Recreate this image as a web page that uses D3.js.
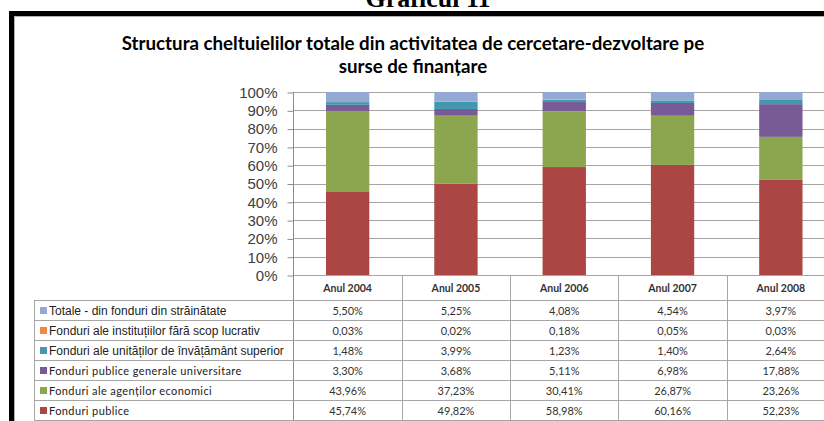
<!DOCTYPE html>
<meta charset="utf-8">
<style>
body { margin: 0; background: #fff; }
svg { display: block; }
.ytick text { font-family: "Liberation Sans", Arial, sans-serif; font-size: 15px; fill: #404040; }
.cell { font-family: Lato, "Open Sans", sans-serif; font-size: 11px; fill: #333; }
</style>
<body>
<svg id="chart" width="824" height="421"></svg>
</body>
<script src="https://d3js.org/d3.v7.min.js"></script>
<script>
// data (percent of total per year)
var years = ["Anul 2004", "Anul 2005", "Anul 2006", "Anul 2007", "Anul 2008"];
var fonduriPublice      = [45.74, 49.82, 58.98, 60.16, 52.23];
var agentiEconomici     = [43.96, 37.23, 30.41, 26.87, 23.26];
var publiceUniversitare = [3.30, 3.68, 5.11, 6.98, 17.88];
var invatamantSuperior  = [1.48, 3.99, 1.23, 1.40, 2.64];
var faraScopLucrativ    = [0.03, 0.02, 0.18, 0.05, 0.03];
var strainatate         = [5.50, 5.25, 4.08, 4.54, 3.97];
var yTicks = [0, 0.1, 0.2, 0.3, 0.4, 0.5, 0.6, 0.7, 0.8, 0.9, 1];

// stacking order bottom -> top
var series = [
  {key: "Fonduri publice", values: fonduriPublice, color: "#ab4644", legendFont: "b"},
  {key: "Fonduri ale agenților economici", values: agentiEconomici, color: "#8ba64e", legendFont: "b"},
  {key: "Fonduri publice generale universitare", values: publiceUniversitare, color: "#775a96", legendFont: "b"},
  {key: "Fonduri ale unităților de învățământ superior", values: invatamantSuperior, color: "#4198af", legendFont: "a"},
  {key: "Fonduri ale instituțiilor fără scop lucrativ", values: faraScopLucrativ, color: "#f08a3f", legendFont: "a"},
  {key: "Totale - din fonduri din străinătate", values: strainatate, color: "#93a8d2", legendFont: "a"}
];
// table rows go top -> bottom
var tableRows = series.slice().reverse();

var svg = d3.select("#chart");
var W = 824, H = 421;

var x = d3.scaleBand().domain(years).range([293.5, 835]);
var y = d3.scaleLinear().domain([0, 1]).range([275, 92]);
var barW = x.bandwidth() * 0.4;

var loc = d3.formatLocale({decimal: ",", thousands: ".", grouping: [3], currency: ["", ""]});
var pct = function(v) { return loc.format(".2f")(v) + "%"; };

// header "Graficul 11" cut off at the top
svg.append("text")
  .attr("x", 428).attr("y", 7)
  .attr("text-anchor", "middle")
  .style("font-family", "'Liberation Serif', 'Times New Roman', serif")
  .style("font-weight", "bold").style("font-size", "26px")
  .text("Graficul 11");

// outer frame
svg.append("rect")
  .attr("x", 11.5).attr("y", 13.5).attr("width", 900).attr("height", 600)
  .attr("fill", "none").attr("stroke", "#000").attr("stroke-width", 5);
svg.append("path").attr("d", "M14.5,421V16.5H824")
  .attr("fill", "none").attr("stroke", "#b0b0b0").attr("stroke-width", 1);

// title, fitted to the width it has in the picture
var title = svg.append("g")
  .style("font-family", "Lato, 'Open Sans', sans-serif")
  .style("font-weight", "bold").style("font-size", "19px").attr("fill", "#000");
var t1 = title.append("text").attr("x", 413).attr("y", 50).attr("text-anchor", "middle")
  .text("Structura cheltuielilor totale din activitatea de cercetare-dezvoltare pe");
var t2 = title.append("text").attr("x", 413).attr("y", 73).attr("text-anchor", "middle")
  .text("surse de finanțare");
var fs = 19 * 583 / t1.node().getComputedTextLength();
title.style("font-size", fs + "px");

// gridlines
svg.append("g").selectAll("line").data(yTicks).join("line")
  .attr("x1", 293).attr("x2", W)
  .attr("y1", function(d) { return Math.round(y(d)) + 0.5; })
  .attr("y2", function(d) { return Math.round(y(d)) + 0.5; })
  .attr("stroke", "#a6a6a6");

// y axis
var yAxis = svg.append("g").attr("class", "ytick")
  .attr("transform", "translate(293.5,0.5)")
  .call(d3.axisLeft(y).tickValues(yTicks).tickFormat(d3.format(".0%")).tickSize(6).tickPadding(10));
yAxis.select(".domain").remove();
yAxis.selectAll("line").attr("stroke", "#8c8c8c");
svg.append("line").attr("x1", 293.5).attr("x2", 293.5).attr("y1", 92).attr("y2", H)
  .attr("stroke", "#8c8c8c");

// stacked bars
var rows = years.map(function(yr, i) {
  var r = {year: yr};
  series.forEach(function(s) { r[s.key] = s.values[i]; });
  return r;
});
var stack = d3.stack().keys(series.map(function(s) { return s.key; })).offset(d3.stackOffsetExpand);
var layers = stack(rows);

svg.append("g").selectAll("g").data(layers).join("g")
  .attr("fill", function(d, i) { return series[i].color; })
  .selectAll("rect").data(function(d) { return d; }).join("rect")
  .attr("x", function(d) { return x(d.data.year) + (x.bandwidth() - barW) / 2; })
  .attr("width", barW)
  .attr("y", function(d) { return y(d[1]); })
  .attr("height", function(d) { return y(d[0]) - y(d[1]); });

// data table under the axis
var rowH = 20, tableTop = 300, lineCol = "#a6a6a6";
var tbl = svg.append("g");

// column separators and header
tbl.selectAll("line.col").data(years.slice(1).concat(["end"])).join("line")
  .attr("class", "col")
  .attr("x1", function(d) { return d === "end" ? 835 : Math.round(x(d)) + 0.5; })
  .attr("x2", function(d) { return d === "end" ? 835 : Math.round(x(d)) + 0.5; })
  .attr("y1", 275).attr("y2", H).attr("stroke", lineCol);
tbl.selectAll("text.head").data(years).join("text")
  .attr("class", "cell head")
  .attr("x", function(d) { return x(d) + x.bandwidth() / 2; })
  .attr("y", 292)
  .attr("text-anchor", "middle")
  .style("font-weight", "bold").style("font-size", "10.5px")
  .text(function(d) { return d; });

// horizontal lines
tbl.selectAll("line.row").data(d3.range(tableRows.length + 1)).join("line")
  .attr("class", "row")
  .attr("x1", 34).attr("x2", W)
  .attr("y1", function(i) { return tableTop + i * rowH + 0.5; })
  .attr("y2", function(i) { return tableTop + i * rowH + 0.5; })
  .attr("stroke", lineCol);
tbl.append("line").attr("x1", 34.5).attr("x2", 34.5).attr("y1", tableTop).attr("y2", H)
  .attr("stroke", lineCol);

var rowG = tbl.selectAll("g.trow").data(tableRows).join("g")
  .attr("class", "trow")
  .attr("transform", function(d, i) { return "translate(0," + (tableTop + i * rowH) + ")"; });

rowG.append("rect")
  .attr("x", 40).attr("y", 7).attr("width", 7).attr("height", 7)
  .attr("fill", function(d) { return d.color; });

rowG.append("text")
  .attr("x", 49).attr("y", 14.5)
  .attr("fill", "#222")
  .style("font-family", function(d) { return d.legendFont === "a" ? "'Liberation Sans', Arial, sans-serif" : "Lato, 'Open Sans', sans-serif"; })
  .style("font-size", function(d) { return d.legendFont === "a" ? "12px" : "11px"; })
  .style("letter-spacing", function(d) { return d.legendFont === "a" ? "0px" : "0.4px"; })
  .text(function(d) { return d.key; });

rowG.selectAll("text.val").data(function(d) { return d.values; }).join("text")
  .attr("class", "cell val")
  .attr("x", function(v, j) { return x(years[j]) + x.bandwidth() / 2; })
  .attr("y", 14.5)
  .attr("text-anchor", "middle")
  .text(function(v) { return pct(v); });
</script>
